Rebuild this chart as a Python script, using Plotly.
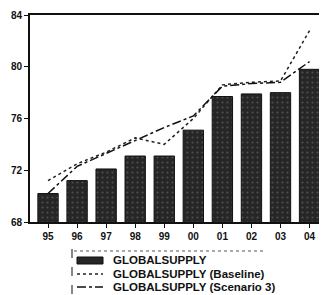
import plotly.graph_objects as go

years = ["95", "96", "97", "98", "99", "00", "01", "02", "03", "04"]
supply = [70.2, 71.2, 72.1, 73.1, 73.1, 75.1, 77.7, 77.9, 78.0, 79.8]
baseline = [71.2, 72.5, 73.4, 74.5, 74.0, 76.0, 78.6, 78.8, 78.9, 82.8]
scenario3 = [70.2, 72.3, 73.3, 74.3, 75.3, 76.2, 78.5, 78.7, 78.8, 80.4]
y_ticks = [68, 72, 76, 80, 84]
legend_names = ["GLOBALSUPPLY", "GLOBALSUPPLY (Baseline)", "GLOBALSUPPLY (Scenario 3)"]

# page body has an 8px default margin; figure is sized to fit the window
OFF = 8
W, H = 327 - OFF, 295 - OFF
# plot area in window pixels: x 30..327, y 15..222
L, R, T, B = 30 - OFF, 0, 15 - OFF, 295 - 222
PW, PH = W - L - R, H - T - B


def px(x):
    return (x - OFF - L) / PW


def py(y):
    return (H - B - (y - OFF)) / PH


FONT = "Liberation Sans, Arial"

fig = go.Figure()
fig.add_trace(go.Bar(x=years, y=supply, name=legend_names[0],
                     marker=dict(color="#262626", line=dict(color="#111111", width=1),
                                 pattern=dict(shape=".", fgcolor="#777777", size=5, solidity=0.15))))
fig.add_trace(go.Scatter(x=years, y=baseline, name=legend_names[1], mode="lines",
                         line=dict(color="#222222", width=1.5, dash="dot")))
fig.add_trace(go.Scatter(x=years, y=scenario3, name=legend_names[2], mode="lines",
                         line=dict(color="#111111", width=1.5, dash="dashdot")))

# manual compact legend
shapes = []
annotations = []
rows = [260, 274, 287]
shapes.append(dict(type="line", xref="paper", yref="paper", x0=px(72), x1=px(72),
                   y0=py(249), y1=py(295), line=dict(color="#111111", width=1, dash="dash")))
shapes.append(dict(type="line", xref="paper", yref="paper", x0=px(74), x1=px(265),
                   y0=py(251), y1=py(251), line=dict(color="#555555", width=1, dash="dot")))
shapes.append(dict(type="rect", xref="paper", yref="paper", x0=px(77), x1=px(103),
                   y0=py(264), y1=py(257), fillcolor="#262626", line=dict(color="#111111", width=1)))
shapes.append(dict(type="line", xref="paper", yref="paper", x0=px(77), x1=px(103),
                   y0=py(rows[1]), y1=py(rows[1]), line=dict(color="#222222", width=1.5, dash="dot")))
shapes.append(dict(type="line", xref="paper", yref="paper", x0=px(77), x1=px(103),
                   y0=py(rows[2]), y1=py(rows[2]), line=dict(color="#111111", width=1.5, dash="dashdot")))
for name, r in zip(legend_names, rows):
    annotations.append(dict(text=name, xref="paper", yref="paper", x=px(111), y=py(r),
                            xanchor="left", yanchor="middle", showarrow=False,
                            font=dict(size=11.5, family=FONT, color="#111111", weight="bold")))

fig.update_layout(
    width=W, height=H,
    margin=dict(l=L, r=R, t=T, b=B, autoexpand=False),
    paper_bgcolor="white", plot_bgcolor="white",
    bargap=0.3,
    font=dict(family=FONT, size=9, color="#111111"),
    showlegend=False,
    shapes=shapes,
    annotations=annotations,
    xaxis=dict(range=[-0.62, 9.6], showline=True, linecolor="#111111", linewidth=2,
               ticks="outside", ticklen=4, tickcolor="#111111", showgrid=False, mirror=True,
               automargin=False, tickfont=dict(size=10, family=FONT, weight="bold")),
    yaxis=dict(range=[68, 84], tickvals=y_ticks, showline=True, linecolor="#111111",
               linewidth=2, ticks="outside", ticklen=4, tickcolor="#111111",
               showgrid=False, zeroline=False, mirror=False, automargin=False,
               tickfont=dict(size=10, family=FONT, weight="bold")),
)
fig.write_html("out.html")
